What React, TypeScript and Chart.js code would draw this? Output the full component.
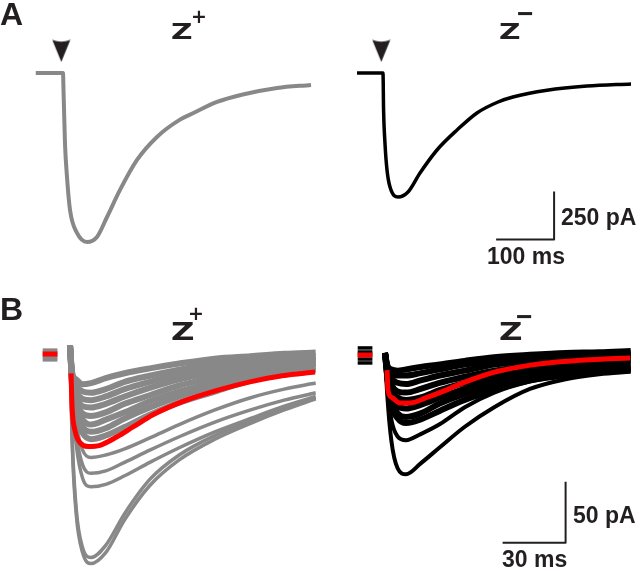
import React, { useEffect, useRef } from "react";
import { Chart, registerables } from "chart.js";

Chart.register(...registerables);

// ---------- Panel A: averaged currents (time in ms, current in pA) ----------
const aZpTime = [-47, 0, 1, 3.4, 6.9, 12.1, 24.1, 41.4, 58.6, 75.9, 98.3, 127.6, 162, 201.7, 224, 265.5, 310, 369, 427.6];
const aZpCurrent = [0, 0, -104, -365, -542, -714, -833, -880, -854, -750, -609, -453, -333, -243, -210, -151, -112, -78, -62];
const aZmTime = [-44.8, 0, 1, 3.4, 6.9, 12.1, 25.9, 43.1, 63.8, 93.1, 127.6, 162, 198.3, 224, 282.8, 351.7, 427.6];
const aZmCurrent = [0, 0, -193, -365, -505, -594, -646, -620, -521, -401, -297, -208, -151, -125, -90, -68, -57];
const aArrowTime = [-3];
const aArrowLevel = [115];
const aBarTime = [195, 295, 295]; // 100 ms
const aBarCurrent = [-867, -867, -617]; // 250 pA

// ---------- Panel B: individual traces + mean ----------
const bTime = [0, 1, 3, 6, 10, 17, 26, 38, 52, 69, 86, 102, 117];
const bBaseTime = [-13, -6];

const bZpT1 = [8, -14, -20, -24, -23, -19, -15, -11, -7, -3, -1, 1, 2];
const bZpT2 = [8, -16, -25, -30, -31, -28, -22, -17, -12, -7, -4, -2, -1];
const bZpT3 = [8, -17, -30, -36, -37, -34, -28, -22, -16, -11, -7, -4, -2];
const bZpT4 = [8, -19, -34, -42, -43, -40, -34, -27, -20, -14, -9, -6, -4];
const bZpT5 = [8, -20, -38, -48, -50, -47, -40, -33, -25, -18, -12, -8, -6];
const bZpT6 = [8, -22, -42, -53, -57, -53, -47, -38, -30, -22, -16, -11, -7];
const bZpT7 = [8, -24, -46, -59, -63, -60, -52, -43, -34, -25, -18, -13, -10];
const bZpT8 = [8, -25, -50, -64, -69, -66, -59, -49, -39, -30, -21, -16, -12];
const bZpT9 = [8, -29, -57, -78, -84, -82, -77, -68, -57, -45, -35, -28, -23];
const bZpT10 = [8, -33, -66, -90, -97, -95, -88, -78, -67, -55, -45, -37, -31];
const bZpT11 = [8, -35, -74, -101, -108, -106, -99, -88, -76, -63, -52, -42, -34];
const bZpT12 = [8, -66, -127, -158, -166, -156, -130, -102, -82, -66, -54, -43, -35];
const bZpT13 = [8, -70, -131, -162, -171, -162, -135, -107, -86, -69, -56, -45, -36];
const bZpBaseLevels = [4, 2, 0, -2, -4];
const bZpMeanTime = [0.5, 1, 2.4, 4.8, 8.6, 14.3, 22.4, 30, 39.5, 53.8, 70, 85.7, 101, 116.7];
const bZpMean = [-15, -43, -62, -72, -75, -74, -67, -59, -49, -38, -29, -22, -17, -14];
const bZpMeanBase = 0.8;

const bZmT1 = [2.5, -7, -11, -12, -11, -9, -7, -4, -1, 1, 2.5, 3, 4];
const bZmT2 = [2.5, -8, -14, -16, -16, -14, -11, -7, -4, -2, 0, 1, 2.5];
const bZmT3 = [2.5, -9, -18, -22, -23, -20, -16, -12, -7, -4, -2.5, -1, 1];
const bZmT4 = [2.5, -10, -23, -29, -30, -27, -22, -17, -12, -8, -5, -3, -2];
const bZmT5 = [2.5, -11, -28, -34, -36, -34, -28, -22, -16, -11, -8, -6, -4];
const bZmT6 = [2.5, -13, -32, -41, -43, -40, -34, -27, -20, -15, -11, -8, -7];
const bZmT7 = [2.5, -15, -36, -47, -50, -47, -39, -31, -24, -17, -13, -11, -9];
const bZmT8 = [2.5, -16, -40, -51, -55, -52, -45, -36, -28, -20, -16, -12, -11];
const bZmT9 = [2.5, -24, -52, -66, -69, -64, -56, -42, -30, -21, -16, -13, -11];
const bZmT10 = [2.5, -30, -69, -92, -97, -88, -75, -58, -42, -27, -19, -15, -13];
const bZmBaseLevels = [6.6, 3.3, 0.8, -2.5, -5.7];
const bZmMeanTime = [1, 1.4, 3.3, 7.1, 11.9, 20, 27.6, 37.1, 46.7, 53.8, 65.7, 81.9, 97.6, 116.7];
const bZmMean = [-11.5, -28, -34, -38.5, -38.5, -34, -29, -22, -16, -12.5, -8.5, -5, -3, -1.6];
const bZmMeanBase = 0.8;
const bBarTime = [56, 86, 86]; // 30 ms
const bBarCurrent = [-153, -153, -103]; // 50 pA

// ---------- layout (pixels) ----------
const W = 640;
const H = 571;
const GRAY = "#888888";
const INK = "#231f20";
const RED = "#ff0000";
const FONT = '"Liberation Sans", Arial, Helvetica, sans-serif';
const ZFONT = '"DejaVu Sans", "Liberation Sans", Arial, sans-serif';

function xRange(originPx: number, pxPerUnit: number) {
  return { min: -originPx / pxPerUnit, max: (W - originPx) / pxPerUnit };
}
function yRange(baselinePx: number, pxPerUnit: number) {
  return { min: (baselinePx - H) / pxPerUnit, max: baselinePx / pxPerUnit };
}

function pts(xs: number[], ys: number[]) {
  return xs.map((x, i) => ({ x, y: ys[i] }));
}

function Txt(props: { left: number; top: number; size: number; sx?: number; family?: string; children: React.ReactNode }) {
  return (
    <div
      style={{
        position: "absolute",
        left: props.left,
        top: props.top,
        fontFamily: props.family || FONT,
        fontWeight: 700,
        fontSize: props.size,
        lineHeight: `${props.size}px`,
        color: INK,
        whiteSpace: "nowrap",
        transform: props.sx ? `scaleX(${props.sx})` : undefined,
        transformOrigin: "left top",
      }}
    >
      {props.children}
    </div>
  );
}

export default function App() {
  const ref = useRef<HTMLCanvasElement>(null);

  useEffect(() => {
    document.body.style.margin = "0";
    const arrow = document.createElement("canvas");
    arrow.width = 19;
    arrow.height = 23;
    const g = arrow.getContext("2d")!;
    g.fillStyle = INK;
    g.beginPath();
    g.moveTo(0.5, 0.5);
    g.quadraticCurveTo(9.5, 4, 18.5, 0.5);
    g.lineTo(9.5, 22.5);
    g.closePath();
    g.fill();

    const trace = (xs: number[], ys: number[], color: string, width: number, ax: string, order: number, smooth = true) => ({
      data: pts(xs, ys),
      borderColor: color,
      backgroundColor: color,
      borderWidth: width,
      pointRadius: 0,
      fill: false,
      tension: smooth ? 0.4 : 0,
      cubicInterpolationMode: smooth ? "monotone" : "default",
      xAxisID: "x" + ax,
      yAxisID: "y" + ax,
      order,
    });

    const datasets: any[] = [];
    // Panel A
    datasets.push(trace(aZpTime, aZpCurrent, GRAY, 4, "a", 2));
    datasets.push(trace(aZmTime, aZmCurrent, "#000000", 3.5, "b", 2));
    datasets.push(trace(aBarTime, aBarCurrent, INK, 2, "b", 1, false));
    for (const ax of ["a", "b"]) {
      datasets.push({
        data: pts(aArrowTime, aArrowLevel),
        showLine: false,
        pointStyle: arrow,
        pointRadius: 10,
        xAxisID: "x" + ax,
        yAxisID: "y" + ax,
        order: 1,
      });
    }
    // Panel B, Z+
    const zp = [bZpT1, bZpT2, bZpT3, bZpT4, bZpT5, bZpT6, bZpT7, bZpT8, bZpT9, bZpT10, bZpT11, bZpT12, bZpT13];
    zp.forEach((t, i) => datasets.push(trace(bTime, t, GRAY, i < 8 ? 6 : 3.5, "c", 3)));
    bZpBaseLevels.forEach((v) => datasets.push(trace(bBaseTime, [v, v], GRAY, 3.5, "c", 3, false)));
    datasets.push(trace(bZpMeanTime, bZpMean, RED, 5, "c", 0));
    datasets.push(trace(bBaseTime, [bZpMeanBase, bZpMeanBase], RED, 5, "c", 0, false));
    // Panel B, Z-
    const zm = [bZmT1, bZmT2, bZmT3, bZmT4, bZmT5, bZmT6, bZmT7, bZmT8, bZmT9, bZmT10];
    zm.forEach((t, i) => datasets.push(trace(bTime, t, "#000000", i < 8 ? 6 : 4, "d", 3)));
    bZmBaseLevels.forEach((v) => datasets.push(trace(bBaseTime, [v, v], "#000000", 3.5, "d", 3, false)));
    datasets.push(trace(bZmMeanTime, bZmMean, RED, 5, "d", 0));
    datasets.push(trace(bBaseTime, [bZmMeanBase, bZmMeanBase], RED, 5, "d", 0, false));
    datasets.push(trace(bBarTime, bBarCurrent, INK, 2, "d", 1, false));

    const hidden = (r: { min: number; max: number }) => ({ type: "linear" as const, display: false, min: r.min, max: r.max, bounds: "data" as const, offset: false });

    const chart = new Chart(ref.current!, {
      type: "line",
      data: { datasets },
      options: {
        responsive: false,
        animation: false,
        events: [],
        layout: { padding: 0, autoPadding: false },
        plugins: { legend: { display: false }, tooltip: { enabled: false }, title: { display: false } },
        elements: { line: { borderCapStyle: "butt", borderJoinStyle: "round" } },
        scales: {
          xa: hidden(xRange(63, 0.58)),
          ya: hidden(yRange(73, 0.192)),
          xb: hidden(xRange(383, 0.58)),
          yb: hidden(yRange(73, 0.192)),
          xc: hidden(xRange(70, 2.1)),
          yc: hidden(yRange(355, 1.22)),
          xd: hidden(xRange(385, 2.1)),
          yd: hidden(yRange(356, 1.22)),
        },
      } as any,
    });
    return () => chart.destroy();
  }, []);

  return (
    <div style={{ position: "fixed", left: 0, top: 0, width: W, height: H, background: "#ffffff", overflow: "hidden" }}>
      <canvas ref={ref} width={W} height={H} style={{ position: "absolute", left: 0, top: 0, width: W, height: H, display: "block" }} />
      <Txt left={0} top={-2} size={32}>A</Txt>
      <Txt left={0} top={293} size={32}>B</Txt>

      <Txt left={171} top={21} size={22} sx={1.35} family={ZFONT}>Z</Txt>
      <Txt left={191} top={7} size={19} family={ZFONT}>+</Txt>
      <Txt left={499} top={21} size={22} sx={1.35} family={ZFONT}>Z</Txt>
      <Txt left={517} top={0} size={28}>−</Txt>

      <Txt left={171} top={320} size={24} sx={1.35} family={ZFONT}>Z</Txt>
      <Txt left={188} top={304} size={19} family={ZFONT}>+</Txt>
      <Txt left={499} top={320} size={24} sx={1.35} family={ZFONT}>Z</Txt>
      <Txt left={516} top={303} size={28}>−</Txt>

      <Txt left={561} top={206} size={23}>250 pA</Txt>
      <Txt left={487} top={245} size={23}>100 ms</Txt>
      <Txt left={573} top={504} size={23}>50 pA</Txt>
      <Txt left={502} top={548} size={23}>30 ms</Txt>
    </div>
  );
}
